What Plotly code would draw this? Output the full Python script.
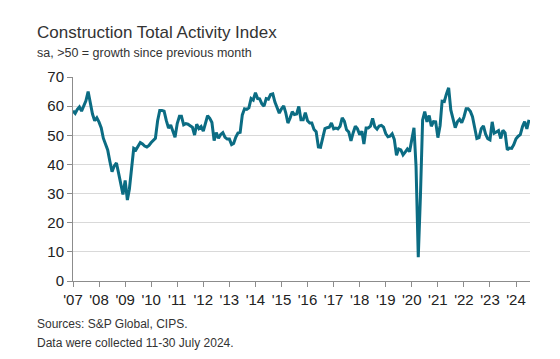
import plotly.graph_objects as go
import pandas as pd

# Monthly values, Jan 2007 - Jul 2024
v2007 = [58.4, 57.5, 58.8, 59.7, 58.3, 60.2, 61.8, 65.0, 60.5, 57.3, 55.0, 56.0]
v2008 = [54.5, 52.5, 49.0, 46.8, 45.0, 41.0, 37.5, 39.5, 40.5, 37.0, 33.5, 29.7]
v2009 = [34.5, 27.8, 31.5, 38.5, 45.5, 45.0, 46.5, 47.5, 47.0, 46.3, 46.0, 46.5]
v2010 = [47.5, 48.5, 49.0, 55.0, 58.5, 58.5, 58.3, 55.0, 52.5, 53.5, 51.6, 49.3]
v2011 = [54.0, 56.5, 56.5, 53.6, 54.0, 53.8, 53.3, 52.8, 50.1, 53.8, 52.3, 53.0]
v2012 = [51.4, 54.3, 56.7, 55.8, 54.4, 48.2, 50.9, 49.0, 50.3, 50.9, 49.3, 48.7]
v2013 = [48.7, 46.8, 47.2, 49.4, 50.8, 51.0, 57.0, 59.1, 58.9, 59.4, 62.6, 62.1]
v2014 = [64.6, 62.6, 62.5, 60.8, 60.0, 62.6, 62.4, 64.0, 64.2, 61.4, 59.4, 57.6]
v2015 = [59.1, 60.1, 57.8, 54.2, 55.9, 58.1, 57.1, 57.3, 59.9, 55.3, 55.3, 57.8]
v2016 = [55.0, 54.2, 54.2, 52.0, 51.2, 46.0, 45.9, 49.2, 52.3, 52.6, 52.8, 54.2]
v2017 = [52.2, 52.5, 52.2, 53.1, 56.0, 54.8, 51.9, 51.1, 48.1, 50.8, 53.1, 52.2]
v2018 = [50.2, 51.4, 47.0, 52.5, 52.5, 53.1, 55.8, 52.9, 52.1, 53.2, 53.4, 52.8]
v2019 = [50.6, 49.5, 49.7, 50.5, 48.6, 43.1, 45.3, 45.0, 43.3, 44.2, 45.3, 44.4]
v2020 = [48.4, 52.6, 39.3, 8.2, 28.9, 55.3, 58.1, 54.6, 56.8, 53.1, 54.7, 54.6]
v2021 = [49.2, 53.3, 61.7, 61.6, 64.2, 66.3, 58.7, 55.2, 52.6, 54.6, 55.5, 54.3]
v2022 = [56.3, 59.1, 59.1, 58.2, 56.4, 52.6, 48.9, 49.2, 52.3, 53.2, 50.4, 48.8]
v2023 = [48.4, 54.6, 50.7, 51.1, 51.6, 48.9, 51.7, 50.8, 45.0, 45.6, 45.5, 46.8]
v2024 = [48.8, 49.7, 50.2, 53.0, 54.7, 52.2, 55.3]

values = (v2007 + v2008 + v2009 + v2010 + v2011 + v2012 + v2013 + v2014 + v2015
          + v2016 + v2017 + v2018 + v2019 + v2020 + v2021 + v2022 + v2023 + v2024)
dates = pd.date_range("2007-01-01", periods=len(values), freq="MS")

tick_years = list(range(2007, 2025))
tick_vals = [f"{y}-01-01" for y in tick_years]
tick_text = [f"'{str(y)[2:]}" for y in tick_years]

title_text = "Construction Total Activity Index"
subtitle_text = "sa, >50 = growth since previous month"
source_text = "Sources: S&P Global, CIPS."
note_text = "Data were collected 11-30 July 2024."

FONT = "Liberation Sans, Arial, sans-serif"
TXT = "#333333"
AX = "#8c8c8c"

fig = go.Figure()
fig.add_trace(go.Scatter(
    x=dates, y=values, mode="lines",
    line=dict(color="#0b6c83", width=3),
    hoverinfo="skip", showlegend=False,
))

fig.update_layout(
    width=560, height=359, autosize=False,
    margin=dict(l=65, r=38, t=69, b=86, pad=0),
    paper_bgcolor="white", plot_bgcolor="white",
    font=dict(family=FONT, color=TXT),
    xaxis=dict(
        type="date", range=["2007-01-01", "2024-07-15"],
        tickmode="array", tickvals=tick_vals, ticktext=tick_text,
        ticks="outside", ticklen=5, tickcolor=AX, tickwidth=1,
        showline=True, linecolor=AX, linewidth=1,
        showgrid=False, zeroline=False,
        tickfont=dict(size=15, color="#222222", family=FONT),
    ),
    yaxis=dict(
        range=[0, 70], tickmode="array", tickvals=list(range(0, 71, 10)),
        ticks="outside", ticklen=5, tickcolor=AX, tickwidth=1,
        showline=True, linecolor=AX, linewidth=1,
        showgrid=True, gridcolor="#d9d9d9", gridwidth=1,
        zeroline=False,
        tickfont=dict(size=15, color="#222222", family=FONT),
    ),
    annotations=[
        dict(text=title_text, xref="paper", yref="paper", x=-0.0832, y=1.218,
             xanchor="left", yanchor="middle", showarrow=False,
             font=dict(size=17, color=TXT, family=FONT)),
        dict(text=subtitle_text, xref="paper", yref="paper", x=-0.0832, y=1.118,
             xanchor="left", yanchor="middle", showarrow=False,
             font=dict(size=12.5, color=TXT, family=FONT)),
        dict(text=source_text, xref="paper", yref="paper", x=-0.0832, y=-0.213,
             xanchor="left", yanchor="middle", showarrow=False,
             font=dict(size=12, color=TXT, family=FONT)),
        dict(text=note_text, xref="paper", yref="paper", x=-0.0832, y=-0.306,
             xanchor="left", yanchor="middle", showarrow=False,
             font=dict(size=12, color=TXT, family=FONT)),
    ],
)

fig.write_html("out.html")
